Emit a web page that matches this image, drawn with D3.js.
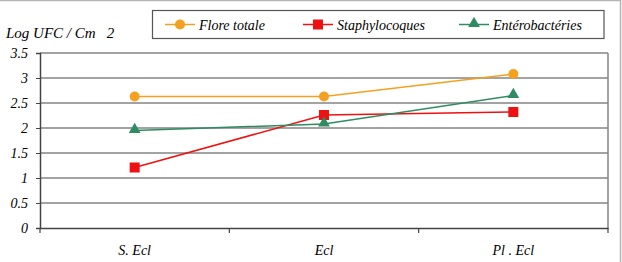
<!DOCTYPE html>
<html>
<head>
<meta charset="utf-8">
<script src="https://cdn.jsdelivr.net/npm/d3@7"></script>
<style>
  body { margin: 0; background: #fff; }
  #chart text { font-family: "Liberation Serif", "DejaVu Serif", "Noto Serif", "Times New Roman", Times, serif !important; font-style: italic; }
</style>
</head>
<body>
<svg id="chart" width="622" height="262"></svg>
<script>
// donnees
var categories = ["S. Ecl", "Ecl", "Pl . Ecl"];
var floreTotale = [2.63, 2.63, 3.08];
var staphylocoques = [1.21, 2.26, 2.32];
var enterobacteries = [1.95, 2.08, 2.65];
var yTicks = [0, 0.5, 1, 1.5, 2, 2.5, 3, 3.5];

var series = [
    { name: "Flore totale", values: floreTotale, color: "#F5A01E", shape: "circle" },
    { name: "Staphylocoques", values: staphylocoques, color: "#EE1111", shape: "square" },
    { name: "Entérobactéries", values: enterobacteries, color: "#2E8B62", shape: "triangle" }
];

var svg = d3.select("#chart").attr("font-size", 14);
var mLeft = 40, mRight = 608, mTop = 53, mBottom = 228;

var x = d3.scaleBand().domain(categories).range([mLeft, mRight]);
var y = d3.scaleLinear().domain([0, 3.5]).range([mBottom, mTop]);

// cadre exterieur (haut et droite)
svg.append("line").attr("x1", 0).attr("x2", 621).attr("y1", 0.5).attr("y2", 0.5)
    .attr("stroke", "#b5b5b5").attr("stroke-width", 1.5);
svg.append("line").attr("x1", 620.5).attr("x2", 620.5).attr("y1", 0).attr("y2", 262)
    .attr("stroke", "#b5b5b5").attr("stroke-width", 1.5);

// grille
svg.append("g").selectAll("line").data(yTicks.filter(function(d){ return d > 0; }))
    .enter().append("line")
    .attr("x1", mLeft).attr("x2", mRight)
    .attr("y1", function(d){ return y(d); }).attr("y2", function(d){ return y(d); })
    .attr("stroke", "#858585").attr("stroke-width", 1.5);
svg.append("line").attr("x1", mRight).attr("x2", mRight).attr("y1", mTop).attr("y2", mBottom)
    .attr("stroke", "#858585").attr("stroke-width", 1.5);

// axe y
var yAxis = svg.append("g").attr("transform", "translate(" + mLeft + ",0)")
    .call(d3.axisLeft(y).tickValues(yTicks).tickSize(4).tickPadding(8)
        .tickFormat(function(d){ return d; }));
yAxis.attr("font-size", 14);
yAxis.select(".domain").attr("stroke", "#444").attr("stroke-width", 1.5);
yAxis.selectAll(".tick line").attr("stroke", "#444");
yAxis.selectAll("text").attr("fill", "#000");

// axe x
var xAxis = svg.append("g").attr("transform", "translate(0," + mBottom + ")")
    .call(d3.axisBottom(x).tickSize(0).tickPadding(17));
xAxis.attr("font-size", 14);
xAxis.select(".domain").attr("stroke", "#444").attr("stroke-width", 1.5);
xAxis.selectAll("text").attr("fill", "#000");
// separateurs entre categories
var bounds = categories.map(function(c){ return x(c); }).concat([mRight]);
xAxis.selectAll(".sep").data(bounds).enter().append("line")
    .attr("x1", function(d){ return d; }).attr("x2", function(d){ return d; })
    .attr("y1", 0).attr("y2", 5).attr("stroke", "#444").attr("stroke-width", 1.2);

// titre axe y
svg.append("text").attr("x", 6).attr("y", 38).attr("font-size", 15).attr("xml:space", "preserve")
    .text("Log UFC / Cm   2");

function cx(i){ return x(categories[i]) + x.bandwidth() / 2; }

function marker(g, shape, color, px, py) {
    if (shape === "circle") {
        g.append("circle").attr("cx", px).attr("cy", py).attr("r", 5).attr("fill", color);
    } else if (shape === "square") {
        g.append("rect").attr("x", px - 5).attr("y", py - 5).attr("width", 10).attr("height", 10).attr("fill", color);
    } else {
        g.append("path").attr("d", d3.symbol().type(d3.symbolTriangle).size(60)())
            .attr("transform", "translate(" + px + "," + (py - 1) + ")").attr("fill", color);
    }
}

var line = d3.line().x(function(d, i){ return cx(i); }).y(function(d){ return y(d); });

series.forEach(function(s){
    var g = svg.append("g");
    g.append("path").attr("d", line(s.values)).attr("fill", "none")
        .attr("stroke", s.color).attr("stroke-width", 1.5);
    s.values.forEach(function(v, i){ marker(g, s.shape, s.color, cx(i), y(v)); });
});

// legende
var leg = svg.append("g");
leg.append("rect").attr("x", 152.5).attr("y", 10.5).attr("width", 451.5).attr("height", 28)
    .attr("fill", "#fff").attr("stroke", "#555").attr("stroke-width", 1.2);
var legX = [165, 303, 459];
series.forEach(function(s, i){
    var lx = legX[i], ly = 24.5;
    leg.append("line").attr("x1", lx).attr("x2", lx + 30).attr("y1", ly).attr("y2", ly)
        .attr("stroke", s.color).attr("stroke-width", 1.5);
    marker(leg, s.shape, s.color, lx + 15, ly);
    leg.append("text").attr("x", lx + 34).attr("y", ly + 5).text(s.name);
});
</script>
</body>
</html>
